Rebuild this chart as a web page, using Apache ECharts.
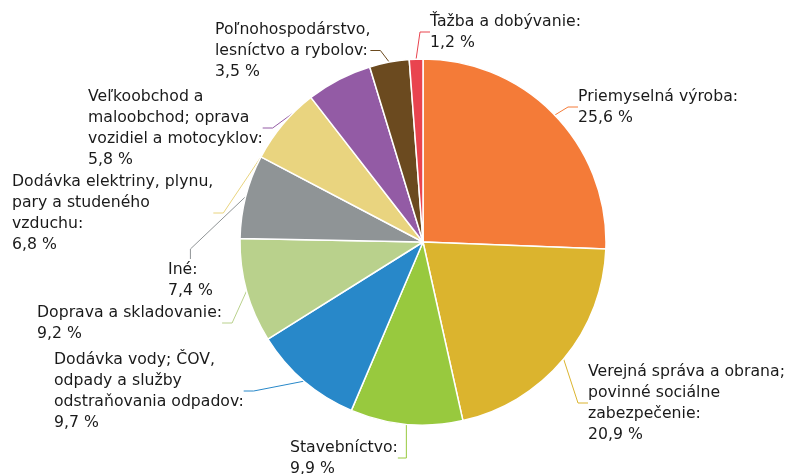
<!DOCTYPE html>
<html>
<head>
<meta charset="utf-8">
<script src="https://cdn.jsdelivr.net/npm/echarts@6/dist/echarts.min.js"></script>
<style>
html, body { margin: 0; padding: 0; background: #fff; }
#chart { width: 786px; height: 474px; }
</style>
</head>
<body>
<div id="chart"></div>
<script>
// odvetvia (v poradí v smere hodinových ručičiek od vrchu)
const categories = [
  'Priemyselná výroba',
  'Verejná správa a obrana;\npovinné sociálne\nzabezpečenie',
  'Stavebníctvo',
  'Dodávka vody; ČOV,\nodpady a služby\nodstraňovania odpadov',
  'Doprava a skladovanie',
  'Iné',
  'Dodávka elektriny, plynu,\npary a studeného\nvzduchu',
  'Veľkoobchod a\nmaloobchod; oprava\nvozidiel a motocyklov',
  'Poľnohospodárstvo,\nlesníctvo a rybolov',
  'Ťažba a dobývanie'
]
const shares = [25.6, 20.9, 9.9, 9.7, 9.2, 7.4, 6.8, 5.8, 3.5, 1.2]
const colors = ['#f47b38', '#dbb42e', '#98c93e', '#2888c9', '#b9d18c', '#8f9496', '#e9d47f', '#935ba5', '#6b4a1f', '#e9444f']

// umiestnenie popisov (ľavý horný roh textu)
const labelPos = [
  [578, 86], [588, 361], [290, 437], [54, 349], [37, 302],
  [168, 259], [12, 171], [88, 86], [215, 19], [430, 11]
]

const chart = echarts.init(document.getElementById('chart'))
chart.setOption({
  animation: false,
  textStyle: { fontFamily: 'DejaVu Sans' },
  series: [
    {
      type: 'pie',
      center: [423, 242],
      radius: 183,
      startAngle: 90,
      clockwise: true,
      avoidLabelOverlap: false,
      itemStyle: { borderColor: '#fff', borderWidth: 1.5 },
      label: {
        show: true,
        position: 'outside',
        color: '#1a1a1a',
        fontSize: 15.7,
        lineHeight: 21,
        align: 'left',
        formatter: p => p.name + ':\n' + p.value.toFixed(1).replace('.', ',') + ' %'
      },
      labelLine: { show: true, length: 10, length2: 10, lineStyle: { width: 1 } },
      labelLayout: params => {
        const pos = labelPos[params.dataIndex]
        return { x: pos[0], y: pos[1], align: 'left', verticalAlign: 'top' }
      },
      data: shares.map((v, i) => ({
        value: v,
        name: categories[i],
        itemStyle: { color: colors[i] },
        labelLine: { lineStyle: { color: colors[i] } }
      }))
    }
  ]
})
</script>
</body>
</html>
